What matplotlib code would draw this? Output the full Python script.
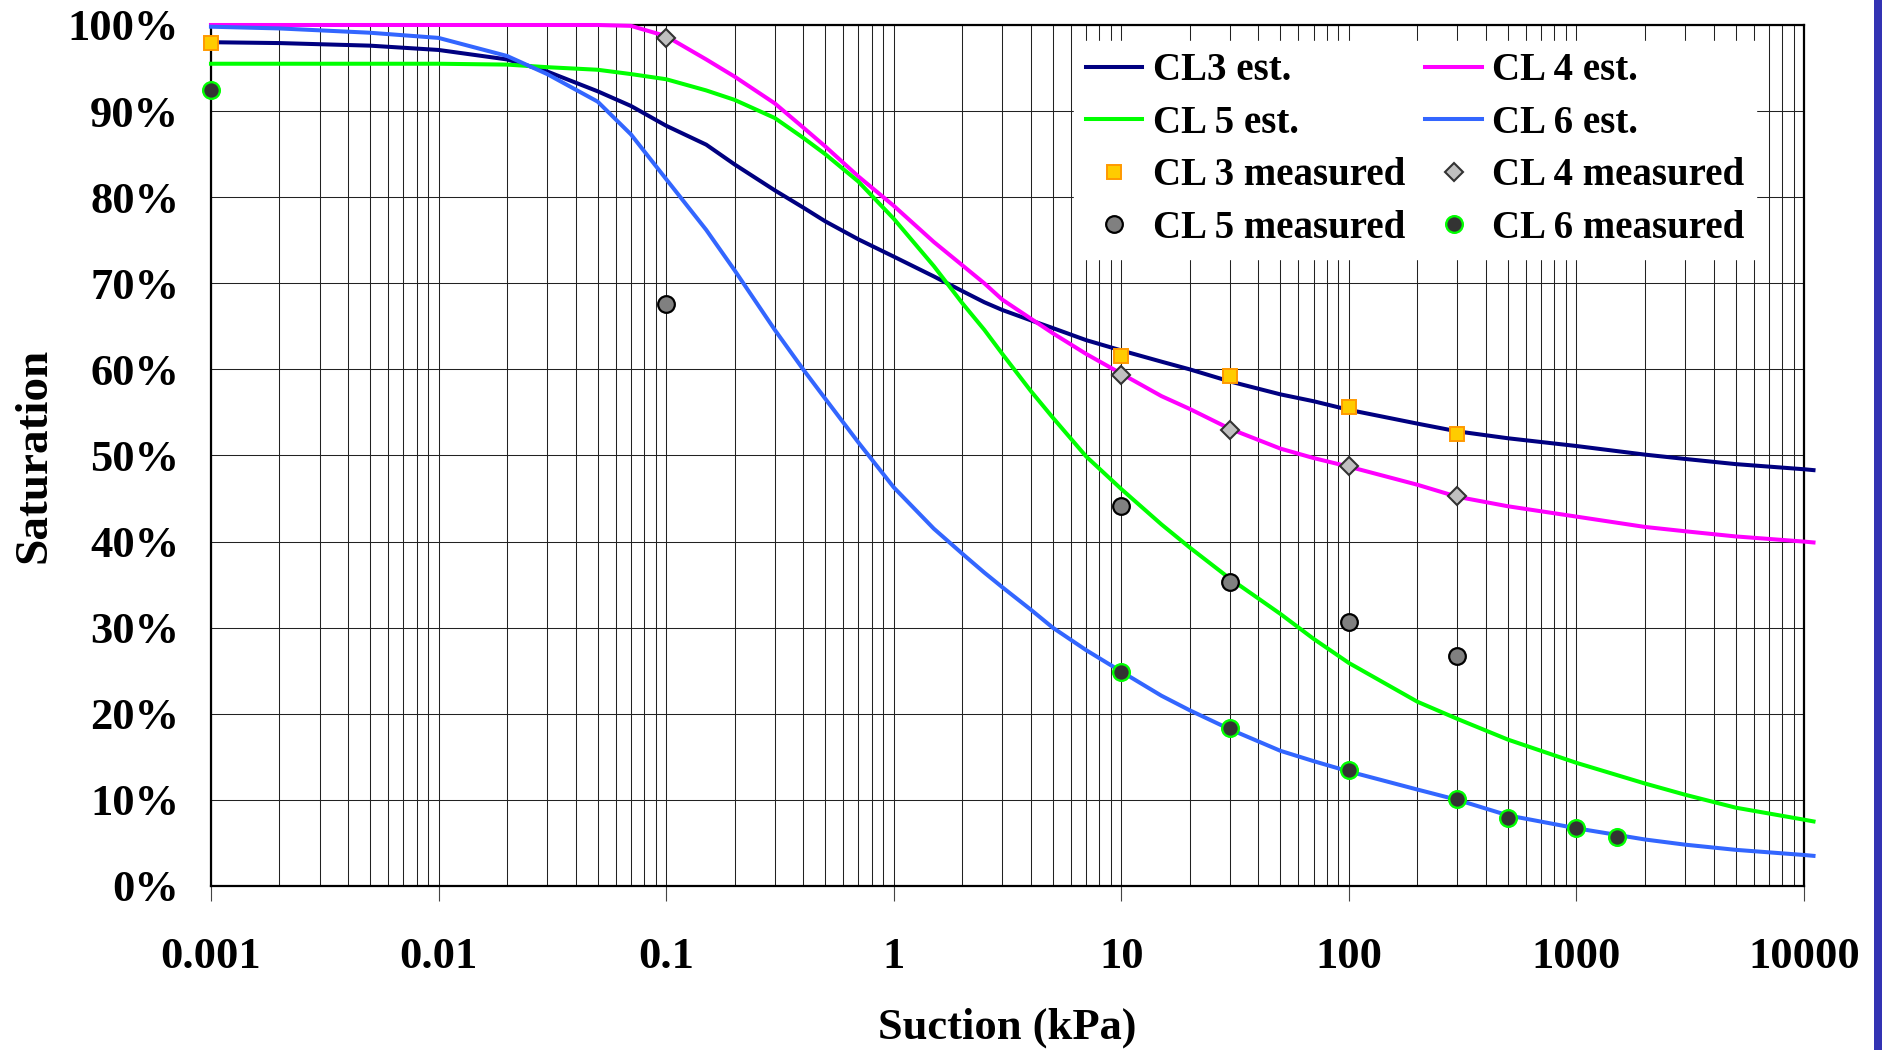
import matplotlib
matplotlib.use('Agg')
import matplotlib.pyplot as plt
from matplotlib.ticker import LogLocator, FixedLocator, FixedFormatter, PercentFormatter
from matplotlib.patches import Rectangle

plt.rcParams['font.family'] = ['Liberation Serif', 'DejaVu Serif']
plt.rcParams['font.weight'] = 'bold'

# ---------------------------------------------------------------------------
# data (suction in kPa, saturation in %)
# ---------------------------------------------------------------------------
suction_est = [0.001, 0.002, 0.005, 0.01, 0.02, 0.03, 0.05, 0.07,
               0.1, 0.15, 0.2, 0.3, 0.4, 0.5, 0.7,
               1, 1.5, 2, 2.5, 3, 4, 5, 7,
               10, 15, 20, 30, 50, 70,
               100, 200, 300, 500, 1000, 2000, 3000, 5000, 10000, 11000]

cl3_est = [98.0, 97.9, 97.6, 97.1, 96.0, 94.6, 92.3, 90.6,
           88.3, 86.1, 83.8, 80.8, 78.8, 77.2, 75.1,
           73.1, 70.8, 69.1, 67.8, 66.9, 65.7, 64.8, 63.4,
           62.2, 60.9, 60.0, 58.6, 57.1, 56.3,
           55.3, 53.7, 52.8, 52.0, 51.1, 50.1, 49.6, 49.0, 48.4, 48.3]
cl4_est = [100.0, 100.0, 100.0, 100.0, 100.0, 100.0, 100.0, 99.9,
           98.7, 96.0, 94.0, 90.9, 88.1, 85.9, 82.4,
           79.0, 74.8, 72.1, 70.0, 68.1, 65.9, 64.2, 61.8,
           59.5, 56.9, 55.4, 53.1, 50.8, 49.7,
           48.7, 46.6, 45.2, 44.1, 42.9, 41.7, 41.2, 40.6, 40.0, 39.9]
cl5_est = [95.5, 95.5, 95.5, 95.5, 95.4, 95.1, 94.8, 94.3,
           93.7, 92.4, 91.3, 89.2, 86.9, 85.0, 81.8,
           77.5, 72.0, 67.7, 64.6, 61.8, 57.5, 54.4, 49.9,
           46.1, 42.0, 39.3, 35.7, 31.6, 28.7,
           25.9, 21.4, 19.4, 17.0, 14.3, 11.9, 10.6, 9.1, 7.7, 7.5]
cl6_est = [99.8, 99.6, 99.1, 98.5, 96.4, 94.3, 91.1, 87.3,
           82.1, 76.2, 71.5, 64.6, 60.0, 56.6, 51.5,
           46.3, 41.5, 38.6, 36.4, 34.7, 32.1, 30.0, 27.4,
           24.9, 22.1, 20.4, 18.2, 15.7, 14.5,
           13.3, 11.2, 10.0, 8.2, 6.7, 5.4, 4.8, 4.2, 3.6, 3.5]

cl3_x = [0.001, 10, 30, 100, 300]
cl3_meas = [97.9, 61.6, 59.2, 55.6, 52.5]
cl4_x = [0.1, 10, 30, 100, 300]
cl4_meas = [98.5, 59.3, 53.0, 48.8, 45.3]
cl5_x = [0.1, 10, 30, 100, 300]
cl5_meas = [67.6, 44.1, 35.3, 30.7, 26.7]
cl6_x = [0.001, 10, 30, 100, 300, 500, 1000, 1500]
cl6_meas = [92.4, 24.9, 18.3, 13.5, 10.1, 7.9, 6.7, 5.7]

x_ticks = [0.001, 0.01, 0.1, 1, 10, 100, 1000, 10000]
x_tick_labels = ['0.001', '0.01', '0.1', '1', '10', '100', '1000', '10000']
y_ticks = [0, 10, 20, 30, 40, 50, 60, 70, 80, 90, 100]

# ---------------------------------------------------------------------------
fig = plt.figure(figsize=(18.82, 10.5), dpi=100)
ax = fig.add_axes([0.1121, 0.1562, 0.8465, 0.8200])

line_kw = dict(linewidth=2.9, clip_on=False, zorder=3)
l3, = ax.plot(suction_est, cl3_est, color='#000080', label='CL3 est.', **line_kw)
l4, = ax.plot(suction_est, cl4_est, color='#FF00FF', label='CL 4 est.', **line_kw)
l5, = ax.plot(suction_est, cl5_est, color='#00FF00', label='CL 5 est.', **line_kw)
l6, = ax.plot(suction_est, cl6_est, color='#3366FF', label='CL 6 est.', **line_kw)

m3, = ax.plot(cl3_x, cl3_meas, linestyle='none', marker='s', markersize=10.5,
              markerfacecolor='#FFCC00', markeredgecolor='#FF9900', markeredgewidth=1.4,
              label='CL 3 measured', clip_on=False, zorder=4)
m4, = ax.plot(cl4_x, cl4_meas, linestyle='none', marker='D', markersize=9.5,
              markerfacecolor='#C0C0C0', markeredgecolor='#333333', markeredgewidth=1.5,
              label='CL 4 measured', clip_on=False, zorder=4)
m5, = ax.plot(cl5_x, cl5_meas, linestyle='none', marker='o', markersize=12,
              markerfacecolor='#808080', markeredgecolor='black', markeredgewidth=1.6,
              label='CL 5 measured', clip_on=False, zorder=4)
m6, = ax.plot(cl6_x, cl6_meas, linestyle='none', marker='o', markersize=12,
              markerfacecolor='#333333', markeredgecolor='#00FF00', markeredgewidth=1.7,
              label='CL 6 measured', clip_on=False, zorder=4)

ax.set_xscale('log')
ax.set_xlim(0.001, 10000)
ax.set_ylim(0, 100)

ax.xaxis.set_major_locator(FixedLocator(x_ticks))
ax.xaxis.set_major_formatter(FixedFormatter(x_tick_labels))
ax.xaxis.set_minor_locator(LogLocator(base=10, subs=range(2, 10), numticks=50))
ax.xaxis.set_minor_formatter(FixedFormatter([]))
ax.yaxis.set_major_locator(FixedLocator(y_ticks))
ax.yaxis.set_major_formatter(PercentFormatter(decimals=0))

ax.grid(True, which='both', axis='x', color='#222222', linewidth=0.75, zorder=1)
ax.grid(True, which='major', axis='y', color='#222222', linewidth=0.75, zorder=1)
ax.set_axisbelow(True)

ax.tick_params(axis='x', which='major', direction='out', length=11, width=0.8,
               color='#444444', pad=26, labelsize=32)
ax.tick_params(axis='x', which='minor', length=0)
ax.tick_params(axis='y', which='major', length=0, pad=23, labelsize=32)

for sp in ax.spines.values():
    sp.set_linewidth(1.6)
    sp.set_color('black')
    sp.set_zorder(2.5)

ax.set_xlabel('Suction (kPa)', fontsize=32, fontweight='bold')
ax.xaxis.set_label_coords(0.5, -0.1417)
ax.set_ylabel('Saturation', fontsize=34, fontweight='bold')
ax.yaxis.set_label_coords(-0.0975, 0.5)

handles = [l3, l5, m3, m5, l4, l6, m4, m6]
leg = ax.legend(handles=handles, ncol=2, loc='upper left',
                bbox_to_anchor=(0.5417, 0.9819), borderaxespad=0,
                fontsize=28, frameon=True, facecolor='white', edgecolor='white',
                framealpha=1, fancybox=False, numpoints=1,
                handlelength=1.46, handletextpad=0.26, columnspacing=0.52,
                labelspacing=0.4, borderpad=0.3)
leg.set_zorder(5)
for t in leg.get_texts():
    t.set_fontweight('bold')

# slide background strip at the right edge
fig.patches.append(Rectangle((1874 / 1882, 0), 8 / 1882, 1, transform=fig.transFigure,
                             facecolor='#3333B3', edgecolor='none'))

plt.savefig('out.png', dpi=100)
